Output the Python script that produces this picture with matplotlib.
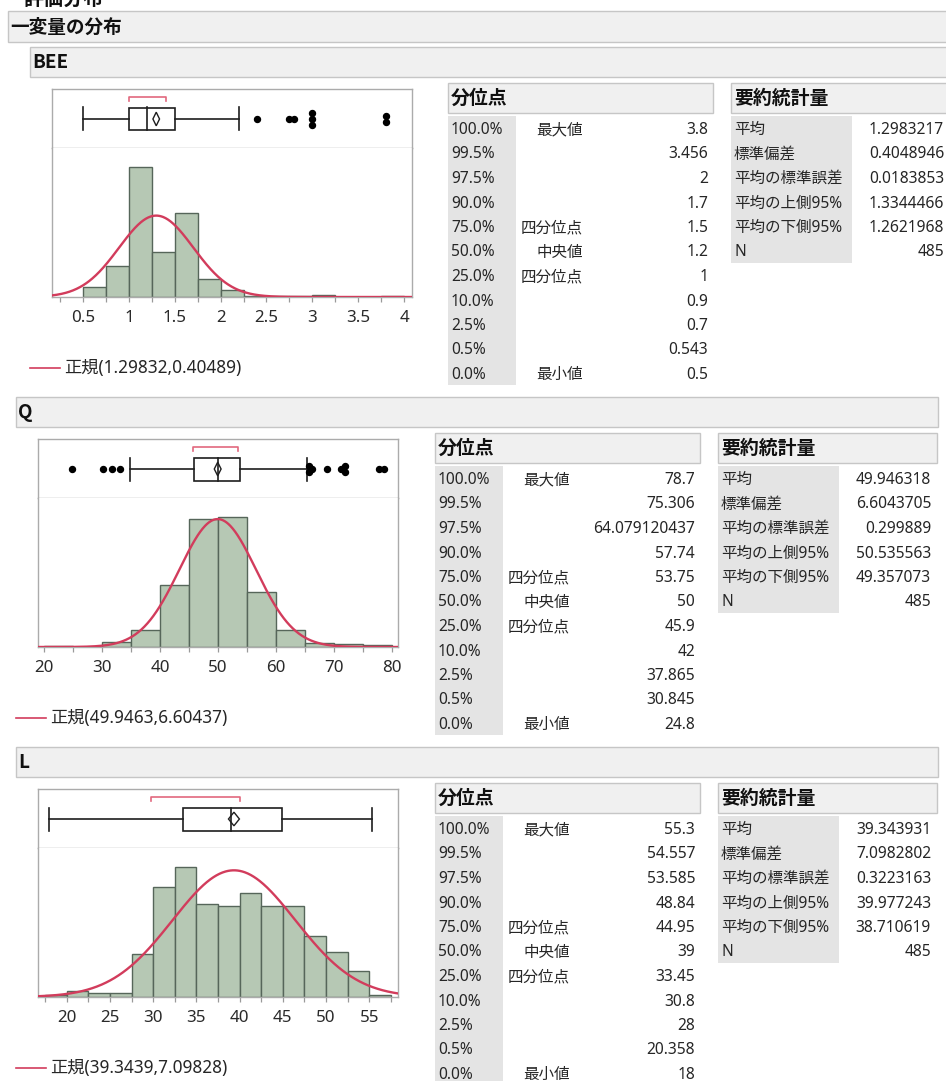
import numpy as np
import matplotlib
matplotlib.use("Agg")
import matplotlib.pyplot as plt
from matplotlib.patches import Rectangle, Polygon

plt.rcParams['font.family'] = ['Noto Sans', 'Noto Sans CJK JP']

W, H = 946, 1081

# ---------------- report text ----------------
report_title = "評価分布"
platform_title = "一変量の分布"
normal_label = "正規"
quantile_title = "分位点"
summary_title = "要約統計量"

quantile_levels = ["100.0%", "99.5%", "97.5%", "90.0%", "75.0%", "50.0%",
                   "25.0%", "10.0%", "2.5%", "0.5%", "0.0%"]
quantile_names = ["最大値", "", "", "", "四分位点", "中央値",
                  "四分位点", "", "", "", "最小値"]
summary_labels = ["平均", "標準偏差", "平均の標準誤差", "平均の上側95%",
                  "平均の下側95%", "N"]

# ---------------- BEE ----------------
bee_quantiles = [3.8, 3.456, 2, 1.7, 1.5, 1.2, 1, 0.9, 0.7, 0.543, 0.5]
bee_summary = [1.2983217, 0.4048946, 0.0183853, 1.3344466, 1.2621968, 485]
bee_bin_start = 0.5
bee_bin_width = 0.25
bee_counts = [15, 45, 191, 66, 124, 26, 10, 1, 1, 1, 3, 0, 0, 2]
bee_whiskers = [0.5, 2.2]
bee_outliers = [2.4, 2.75, 2.8, 3.0, 3.0, 3.0, 3.8, 3.8]
bee_shortest_half = [1.0, 1.4]
bee_ticks = [0.5, 1, 1.5, 2, 2.5, 3, 3.5, 4]
bee_minor_step = 0.25
bee_xrange = [0.162, 4.087]

# ---------------- Q ----------------
q_quantiles = [78.7, 75.306, 64.079120437, 57.74, 53.75, 50, 45.9, 42,
               37.865, 30.845, 24.8]
q_summary = [49.946318, 6.6043705, 0.299889, 50.535563, 49.357073, 485]
q_bin_start = 20
q_bin_width = 5
q_counts = [1, 0, 6, 19, 71, 147, 149, 63, 19, 5, 3, 2]
q_whiskers = [34.8, 65.3]
q_outliers = [24.8, 30.2, 31.7, 33.0, 65.8, 65.8, 66.3, 68.8, 71.2,
              72.0, 72.0, 77.8, 78.7]
q_shortest_half = [45.7, 53.5]
q_ticks = [20, 30, 40, 50, 60, 70, 80]
q_minor_step = 5
q_xrange = [18.91, 81.09]

# ---------------- L ----------------
l_quantiles = [55.3, 54.557, 53.585, 48.84, 44.95, 39, 33.45, 30.8, 28,
               20.358, 18]
l_summary = [39.343931, 7.0982802, 0.3223163, 39.977243, 38.710619, 485]
l_bin_start = 17.5
l_bin_width = 2.5
l_counts = [1, 3, 2, 2, 23, 59, 70, 50, 49, 56, 49, 49, 33, 24, 14, 1]
l_whiskers = [18, 55.3]
l_outliers = []
l_shortest_half = [29.8, 40.0]
l_ticks = [20, 25, 30, 35, 40, 45, 50, 55]
l_minor_step = 2.5
l_xrange = [16.68, 58.32]

sections = [
    dict(name="BEE", quantiles=bee_quantiles, summary=bee_summary,
         bin_start=bee_bin_start, bin_width=bee_bin_width, counts=bee_counts,
         whiskers=bee_whiskers, outliers=bee_outliers,
         shortest_half=bee_shortest_half, ticks=bee_ticks,
         minor_step=bee_minor_step, xrange=bee_xrange),
    dict(name="Q", quantiles=q_quantiles, summary=q_summary,
         bin_start=q_bin_start, bin_width=q_bin_width, counts=q_counts,
         whiskers=q_whiskers, outliers=q_outliers,
         shortest_half=q_shortest_half, ticks=q_ticks,
         minor_step=q_minor_step, xrange=q_xrange),
    dict(name="L", quantiles=l_quantiles, summary=l_summary,
         bin_start=l_bin_start, bin_width=l_bin_width, counts=l_counts,
         whiskers=l_whiskers, outliers=l_outliers,
         shortest_half=l_shortest_half, ticks=l_ticks,
         minor_step=l_minor_step, xrange=l_xrange),
]

# ---------------- layout (pixels) ----------------
section_tops = [47, 397, 747]
plot_shift = [14, 0, 0]
table_shift = [13, 0, 0]

BAR_FACE = "#b6c8b4"
BAR_EDGE = "#56665a"
CURVE = "#d23c5c"
BRACKET = "#e2687e"
FRAME = "#ababab"
HEAD_FILL = "#f0f0f0"
HEAD_EDGE = "#c6c6c6"
COL_FILL = "#e4e4e4"
INK = "#1e1e1e"
TXT = "#262626"
BODY_FS = 11.2
HEAD_FS = 13.6
TICK_FS = 12.2
LEGEND_FS = 12.4
BOLD_FAMILY = ['Noto Sans CJK JP']


def fmt_num(v):
    v = float(v)
    if v.is_integer():
        return str(int(v))
    return repr(v)


def fmt_width(v, width=7):
    ip = len(str(int(abs(v))))
    dec = max(width - ip - 1, 0)
    return f"{v:.{dec}f}"


def px_axes(fig, x0, y0, x1, y1, z=1):
    return fig.add_axes([x0 / W, 1 - y1 / H, (x1 - x0) / W, (y1 - y0) / H],
                        zorder=z)


fig = plt.figure(figsize=(W / 100, H / 100), dpi=100)
bg = px_axes(fig, 0, 0, W, H, z=0)
bg.set_xlim(0, W)
bg.set_ylim(H, 0)
bg.axis("off")


def head_bar(x0, y0, x1, y1, text, tx, size=HEAD_FS):
    bg.add_patch(Rectangle((x0, y0), x1 - x0, y1 - y0, facecolor=HEAD_FILL,
                           edgecolor=HEAD_EDGE, lw=1.0))
    bg.text(tx, (y0 + y1) / 2 + 0.5, text, fontsize=size, fontweight="bold",
            family=BOLD_FAMILY, color="#111111", va="center", ha="left")


# report title (scrolled off the top edge) and platform header
bg.text(23, 6, report_title, fontsize=14.4, fontweight="bold",
        family=BOLD_FAMILY, color="#111111", va="baseline", ha="left")
head_bar(8, 11, W + 5, 42, platform_title, 10, size=13.4)

for sec, top, pdx, tdx in zip(sections, section_tops, plot_shift, table_shift):
    mean, sd, se, ci_hi, ci_lo, n = sec["summary"]
    q = sec["quantiles"]
    q3, med, q1 = q[4], q[5], q[6]
    xr = sec["xrange"]

    # variable header bar
    head_bar(16 + pdx, top, 938 + pdx, top + 30, sec["name"], 18 + pdx)

    fx0, fx1 = 38 + pdx, 398 + pdx
    f_top, f_div, f_base = top + 42, top + 101, top + 250

    # ---- outlier box plot ----
    bx = px_axes(fig, fx0, f_top, fx1, f_div, z=2)
    bx.set_xlim(*xr)
    bx.set_ylim(f_div - f_top, 0)
    bx.set_xticks([])
    bx.set_yticks([])
    for s in bx.spines.values():
        s.set_color(FRAME)
        s.set_linewidth(1.0)
    cy = 30.0
    hh = 11.5
    lw = 1.2
    bx.add_patch(Rectangle((q1, cy - hh), q3 - q1, 2 * hh, facecolor="white",
                           edgecolor=INK, lw=lw, zorder=3))
    bx.plot([med, med], [cy - hh, cy + hh], color=INK, lw=lw, zorder=4)
    w_lo, w_hi = sec["whiskers"]
    bx.plot([w_lo, q1], [cy, cy], color=INK, lw=lw, zorder=3)
    bx.plot([q3, w_hi], [cy, cy], color=INK, lw=lw, zorder=3)
    for w in (w_lo, w_hi):
        bx.plot([w, w], [cy - hh, cy + hh], color=INK, lw=lw, zorder=3)
    dh = 6.8
    bx.add_patch(Polygon([(ci_lo, cy), (mean, cy - dh), (ci_hi, cy),
                          (mean, cy + dh)], closed=True, facecolor="none",
                         edgecolor=INK, lw=1.0, zorder=5))
    sh_lo, sh_hi = sec["shortest_half"]
    bx.plot([sh_lo, sh_lo, sh_hi, sh_hi], [12, 8, 8, 12], color=BRACKET,
            lw=1.2, zorder=3)
    vals, reps = np.unique(np.array(sec["outliers"], dtype=float),
                           return_counts=True)
    for v, k in zip(vals, reps):
        offs = (np.arange(k) - (k - 1) / 2) * 6.0
        bx.plot(np.full(k, v), cy + offs, "o", color="black", ms=4.3,
                mec="black", zorder=6)

    # ---- histogram ----
    hx = px_axes(fig, fx0, f_div, fx1, f_base, z=2)
    counts = np.array(sec["counts"], dtype=float)
    bw = sec["bin_width"]
    lefts = sec["bin_start"] + bw * np.arange(len(counts))
    keep = counts > 0
    hx.bar(lefts[keep], counts[keep], width=bw, align="edge",
           facecolor=BAR_FACE, edgecolor=BAR_EDGE, lw=1.0, zorder=2)
    xs = np.linspace(xr[0], xr[1], 600)
    dens = n * bw * np.exp(-0.5 * ((xs - mean) / sd) ** 2) / (sd * np.sqrt(2 * np.pi))
    hx.plot(xs, dens, color=CURVE, lw=1.7, zorder=3, solid_capstyle="round")
    hx.set_xlim(*xr)
    hx.set_ylim(0, counts.max() * 1.145)
    hx.set_yticks([])
    hx.spines["top"].set_visible(False)
    for s in ("left", "right", "bottom"):
        hx.spines[s].set_color(FRAME)
        hx.spines[s].set_linewidth(1.0)
    ticks = sec["ticks"]
    hx.set_xticks(ticks)
    hx.set_xticklabels([fmt_num(t) for t in ticks])
    step = sec["minor_step"]
    first = np.ceil(xr[0] / step) * step
    hx.set_xticks(np.arange(first, xr[1], step), minor=True)
    hx.tick_params(axis="x", which="both", direction="out", length=3.5,
                   width=0.9, color="#9a9a9a", labelsize=TICK_FS,
                   labelcolor="#2a2a2a", pad=5.5)

    # ---- legend ----
    ly = top + 321
    bg.plot([16 + pdx, 46 + pdx], [ly, ly], color=CURVE, lw=1.2)
    bg.text(50 + pdx, ly, f"{normal_label}({fmt_width(mean)},{fmt_width(sd)})",
            fontsize=LEGEND_FS, color=TXT, va="center", ha="left")

    # ---- quantile table ----
    qx0, qx1 = 435 + tdx, 700 + tdx
    head_bar(qx0, top + 36, qx1, top + 66, quantile_title, qx0 + 3)
    row0 = top + 81.5
    step_y = 24.5
    bg.add_patch(Rectangle((qx0, top + 69), 68, 10 * step_y + 24,
                           facecolor=COL_FILL, edgecolor="none"))
    for i, (lev, nm, v) in enumerate(zip(quantile_levels, quantile_names, q)):
        yb = row0 + i * step_y + 5.5
        bg.text(qx0 + 3, yb, lev, fontsize=BODY_FS, color=TXT,
                va="baseline", ha="left")
        if nm:
            bg.text(qx0 + 135, yb, nm, fontsize=BODY_FS, color=TXT,
                    va="baseline", ha="right")
        bg.text(qx1 - 5, yb, fmt_num(v), fontsize=BODY_FS, color=TXT,
                va="baseline", ha="right")

    # ---- summary table ----
    sx0, sx1 = 718 + tdx, 937 + tdx
    head_bar(sx0, top + 36, sx1, top + 66, summary_title, sx0 + 3)
    bg.add_patch(Rectangle((sx0, top + 69), 121, 5 * step_y + 24,
                           facecolor=COL_FILL, edgecolor="none"))
    for i, (lab, v) in enumerate(zip(summary_labels, sec["summary"])):
        yb = row0 + i * step_y + 5.5
        bg.text(sx0 + 3, yb, lab, fontsize=BODY_FS, color=TXT,
                va="baseline", ha="left")
        bg.text(sx1 - 6, yb, fmt_num(v), fontsize=BODY_FS, color=TXT,
                va="baseline", ha="right")

fig.savefig("out.png", dpi=100)
